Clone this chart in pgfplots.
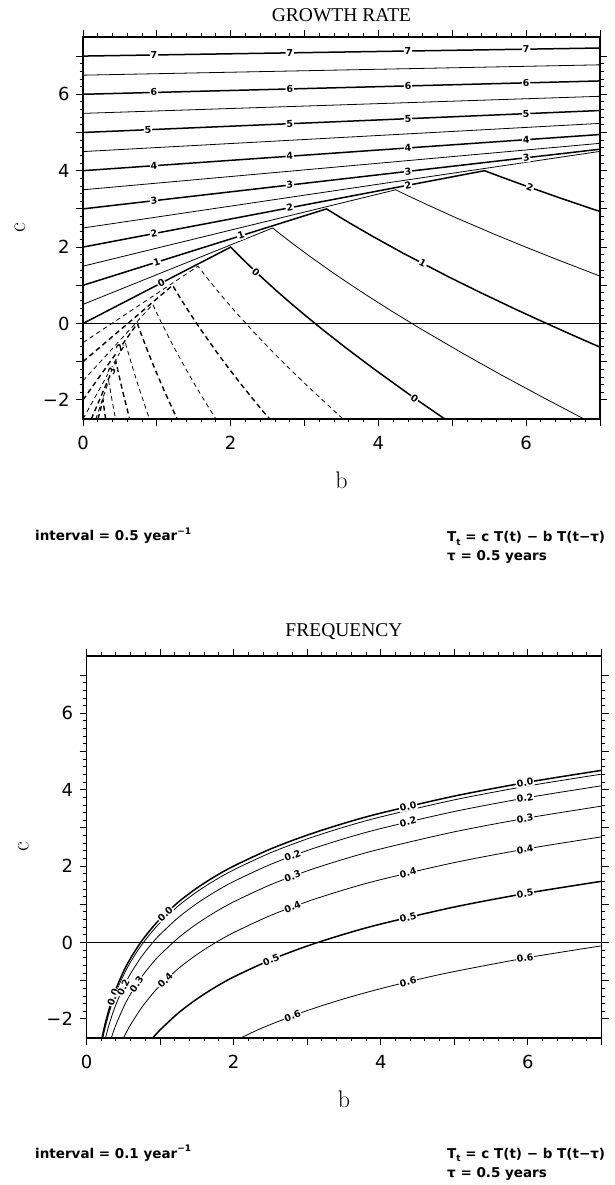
\documentclass[border=0pt]{standalone}
\usepackage{pgfplots}
\pgfplotsset{compat=1.18}
\usepackage{fontspec}
\newfontfamily\ticfont{DejaVu Sans}
\newfontfamily\lblfam{DejaVu Sans}
\newfontfamily\titfont{Liberation Serif}
\newcommand\lbl{\lblfam\bfseries\fontsize{9.5}{10}\selectfont}
\newcommand\annot{\lblfam\bfseries\fontsize{13.5}{15}\selectfont}
\tikzset{cl/.style={font=\lbl, fill=white, inner sep=0.8pt}}
\pgfplotsset{
 base/.style={
   scale only axis, height=382pt,
   xmin=0, xmax=7, ymin=-2.5, ymax=7.5,
   xtick={0,1,2,3,4,5,6,7}, xticklabels={0,,2,,4,,6,},
   ytick={-2,-1,0,1,2,3,4,5,6,7}, yticklabels={−2,,0,,2,,4,,6,},
   minor x tick num=4, minor y tick num=4,
   tick align=outside,
   major tick length=7pt, minor tick length=3.5pt,
   every tick/.append style={line width=0.9pt, black},
   axis line style={line width=1.4pt},
   tick label style={font=\ticfont\fontsize{18}{18}\selectfont},
   xticklabel style={yshift=-7pt},
   yticklabel style={xshift=-3pt},
   title style={font=\titfont\fontsize{19.5}{19.5}\selectfont, anchor=center, yshift=-6pt},
   label style={font=\fontsize{24}{24}\selectfont},
   xlabel style={at={(axis description cs:0.5,-0.1597)}, anchor=center},
   xlabel=b, ylabel=c,
 },
 thk/.style={line width=1.5pt, black},
 thn/.style={line width=0.8pt, black},
 dthk/.style={line width=1.4pt, black, dash pattern=on 5pt off 3.5pt},
 dthn/.style={line width=0.8pt, black, dash pattern=on 4.5pt off 3.5pt},
}
\begin{document}
\begin{tikzpicture}
\useasboundingbox (0,0) rectangle (615pt,1185pt);
% ---------------- GROWTH RATE ----------------
\begin{axis}[base, width=517pt, at={(83pt,766pt)}, anchor=south west,
  title={GROWTH RATE}, title style={at={(axis description cs:0.5,1.0576)}},
  ylabel style={at={(axis description cs:-0.1219,0.5)}, anchor=center}]
\addplot[thk] coordinates {(0,7) (7,7.211)};
\addplot[thn] coordinates {(0,6.5) (7,6.771)};
\addplot[thk] coordinates {(0,6) (7,6.349)};
\addplot[thn] coordinates {(0,5.5) (7,5.947)};
\addplot[thk] coordinates {(0,5) (7,5.575)};
\addplot[thn] coordinates {(0,4.5) (7,5.238)};
\addplot[thk] coordinates {(0,4) (7,4.947)};
\addplot[thn] coordinates {(0,3.5) (7,4.716)};
\addplot[thk] coordinates {(0,3) (7,4.562)};
\addplot[thn] coordinates {(0,2.5) (6.981,4.5) (7,4.505)};
\addplot[thk] coordinates {(0,2) (5.437,4.0) (5.494,3.958) (5.670,3.830) (5.982,3.610) (6.461,3.284) (6.849,3.029) (7,2.933)};
\addplot[thn] coordinates {(0,1.5) (4.234,3.5) (4.278,3.458) (4.416,3.330) (4.659,3.110) (5.031,2.784) (5.577,2.331) (5.935,2.046) (6.367,1.713) (6.669,1.487) (7,1.24)};
\addplot[thk] coordinates {(0,1) (3.297,3.0) (3.332,2.958) (3.439,2.830) (3.628,2.610) (3.919,2.284) (4.343,1.831) (4.958,1.213) (5.366,0.824) (5.864,0.366) (6.218,0.052) (6.621,-0.298) (7,-0.62)};
\addplot[thn] coordinates {(0,0.5) (2.568,2.5) (2.595,2.458) (2.678,2.330) (2.826,2.110) (3.052,1.784) (3.382,1.331) (3.600,1.046) (3.862,0.713) (4.179,0.324) (4.567,-0.134) (5.156,-0.798) (5.648,-1.331) (6.248,-1.956) (6.787,-2.503)};
\addplot[thk] coordinates {(0,0) (2,2) (2.021,1.958) (2.086,1.830) (2.201,1.610) (2.377,1.284) (2.634,0.831) (2.804,0.546) (3.008,0.213) (3.255,-0.176) (3.557,-0.634) (3.930,-1.177) (4.399,-1.831) (4.620,-2.130) (4.866,-2.456) (4.90,-2.50)};
\addplot[dthn] coordinates {(0,-0.5) (1.558,1.5) (1.574,1.458) (1.625,1.330) (1.714,1.110) (1.851,0.784) (2.052,0.331) (2.342,-0.287) (2.535,-0.676) (2.770,-1.134) (3.061,-1.677) (3.426,-2.331) (3.52,-2.5)};
\addplot[dthk] coordinates {(0,-1) (1.213,1.0) (1.226,0.958) (1.265,0.830) (1.335,0.610) (1.442,0.284) (1.598,-0.169) (1.824,-0.787) (1.974,-1.176) (2.157,-1.634) (2.436,-2.298) (2.53,-2.5)};
\addplot[dthn] coordinates {(0,-1.5) (0.945,0.5) (0.955,0.458) (0.985,0.330) (1.040,0.110) (1.123,-0.216) (1.244,-0.669) (1.421,-1.287) (1.537,-1.676) (1.680,-2.134) (1.80,-2.5)};
\addplot[dthk] coordinates {(0,-2) (0.736,0) (0.744,-0.042) (0.767,-0.170) (0.810,-0.390) (0.874,-0.716) (0.969,-1.169) (1.106,-1.787) (1.218,-2.262) (1.275,-2.5)};
\addplot[dthn] coordinates {(0,-2.5) (0.573,-0.5) (0.579,-0.542) (0.598,-0.670) (0.631,-0.890) (0.681,-1.216) (0.755,-1.669) (0.862,-2.287) (0.90,-2.5)};
\addplot[dthk] coordinates {(0.112,-2.5) (0.446,-1.0) (0.451,-1.042) (0.465,-1.170) (0.491,-1.390) (0.530,-1.716) (0.588,-2.169) (0.632,-2.5)};
\addplot[dthn] coordinates {(0.174,-2.5) (0.348,-1.5) (0.351,-1.542) (0.363,-1.670) (0.382,-1.890) (0.413,-2.216) (0.441,-2.5)};
\addplot[dthk] coordinates {(0.203,-2.5) (0.271,-2.0) (0.282,-2.170) (0.298,-2.390) (0.306,-2.5)};
\addplot[line width=1.1pt, black] coordinates {(0,0) (7,0)};
% contour labels
\node[cl, rotate=0.9] at (axis cs:0.96,7.029) {7};
\node[cl, rotate=0.9] at (axis cs:2.8,7.085) {7};
\node[cl, rotate=0.9] at (axis cs:4.4,7.133) {7};
\node[cl, rotate=0.9] at (axis cs:6.0,7.181) {7};
\node[cl, rotate=1.5] at (axis cs:0.96,6.048) {6};
\node[cl, rotate=1.5] at (axis cs:2.8,6.139) {6};
\node[cl, rotate=1.5] at (axis cs:4.4,6.219) {6};
\node[cl, rotate=1.5] at (axis cs:6.0,6.299) {6};
\node[cl, rotate=2.4] at (axis cs:0.88,5.072) {5};
\node[cl, rotate=2.4] at (axis cs:2.8,5.230) {5};
\node[cl, rotate=2.4] at (axis cs:4.4,5.361) {5};
\node[cl, rotate=2.4] at (axis cs:6.0,5.493) {5};
\node[cl, rotate=4] at (axis cs:0.96,4.130) {4};
\node[cl, rotate=4] at (axis cs:2.8,4.379) {4};
\node[cl, rotate=4] at (axis cs:4.4,4.595) {4};
\node[cl, rotate=4] at (axis cs:6.0,4.812) {4};
\node[cl, rotate=6.6] at (axis cs:0.96,3.214) {3};
\node[cl, rotate=6.6] at (axis cs:2.8,3.625) {3};
\node[cl, rotate=6.6] at (axis cs:4.4,3.982) {3};
\node[cl, rotate=6.6] at (axis cs:6.0,4.339) {3};
\node[cl, rotate=10.8] at (axis cs:0.96,2.353) {2};
\node[cl, rotate=10.8] at (axis cs:2.8,3.030) {2};
\node[cl, rotate=10.8] at (axis cs:4.4,3.619) {2};
\node[cl, rotate=-19.4] at (axis cs:6.05,3.56) {2};
\node[cl, rotate=17.4] at (axis cs:1.0,1.607) {1};
\node[cl, rotate=17.4] at (axis cs:2.14,2.298) {1};
\node[cl, rotate=-27.5] at (axis cs:4.6,1.573) {1};
\node[cl, rotate=27.3] at (axis cs:1.06,1.06) {0};
\node[cl, rotate=-43.7] at (axis cs:2.34,1.353) {0};
\node[cl, rotate=-35] at (axis cs:4.49,-1.954) {0};
\node[cl, rotate=54.6] at (axis cs:0.5,-0.641) {2};
\node[cl, rotate=66] at (axis cs:0.39,-1.253) {3};
\end{axis}
% ---------------- FREQUENCY ----------------
\begin{axis}[base, width=515pt, at={(86.5pt,147pt)}, anchor=south west,
  title={FREQUENCY}, title style={at={(axis description cs:0.5,1.0628)}},
  ylabel style={at={(axis description cs:-0.1223,0.5)}, anchor=center}]
\addplot[thk, smooth] coordinates {(0.211,-2.5) (0.25,-2.159) (0.3,-1.794) (0.35,-1.486) (0.4,-1.219) (0.5,-0.773) (0.6,-0.408) (0.75,0.039) (0.9,0.403) (1,0.614) (1.25,1.060) (1.5,1.425) (1.75,1.733) (2,2.000) (2.5,2.447) (3,2.811) (3.5,3.120) (4,3.387) (5,3.833) (6,4.197) (7,4.506)};
\addplot[thn, smooth] coordinates {(0.2215,-2.5) (0.25,-2.258) (0.3,-1.893) (0.35,-1.585) (0.4,-1.318) (0.5,-0.872) (0.6,-0.507) (0.75,-0.060) (0.9,0.304) (1,0.515) (1.25,0.961) (1.5,1.326) (1.75,1.634) (2,1.901) (2.5,2.348) (3,2.712) (3.5,3.021) (4,3.288) (5,3.734) (6,4.098) (7,4.407)};
\addplot[thn, smooth] coordinates {(0.258,-2.5) (0.3,-2.198) (0.35,-1.890) (0.4,-1.623) (0.5,-1.176) (0.6,-0.812) (0.75,-0.365) (0.9,-0.001) (1,0.210) (1.25,0.656) (1.5,1.021) (1.75,1.329) (2,1.596) (2.5,2.043) (3,2.407) (3.5,2.716) (4,2.983) (5,3.429) (6,3.794) (7,4.102)};
\addplot[thn, smooth] coordinates {(0.337,-2.5) (0.35,-2.422) (0.4,-2.155) (0.5,-1.709) (0.6,-1.344) (0.75,-0.897) (0.9,-0.533) (1,-0.322) (1.25,0.124) (1.5,0.489) (1.75,0.797) (2,1.064) (2.5,1.511) (3,1.875) (3.5,2.183) (4,2.450) (5,2.897) (6,3.261) (7,3.570)};
\addplot[thn, smooth] coordinates {(0.503,-2.5) (0.55,-2.323) (0.6,-2.149) (0.75,-1.702) (0.9,-1.338) (1,-1.127) (1.25,-0.680) (1.5,-0.316) (1.75,-0.008) (2,0.259) (2.5,0.706) (3,1.070) (3.5,1.379) (4,1.646) (5,2.092) (6,2.457) (7,2.765)};
\addplot[thk, smooth] coordinates {(0.900,-2.5) (1,-2.289) (1.25,-1.843) (1.5,-1.479) (1.75,-1.170) (2,-0.903) (2.5,-0.457) (3,-0.092) (3.5,0.216) (4,0.483) (5,0.929) (6,1.294) (7,1.602)};
\addplot[thn, smooth] coordinates {(2.095,-2.5) (2.25,-2.357) (2.5,-2.147) (3,-1.782) (3.5,-1.474) (4,-1.207) (4.5,-0.971) (5,-0.760) (6,-0.396) (7,-0.088)};
\addplot[line width=1.1pt, black] coordinates {(0,0) (7,0)};
\node[cl, rotate=44.1] at (axis cs:1.07,0.749) {0.0};
\node[cl, rotate=13.4] at (axis cs:4.37,3.564) {0.0};
\node[cl, rotate=9.9] at (axis cs:5.96,4.184) {0.0};
\node[cl, rotate=70] at (axis cs:0.36,-1.43) {0.0};
\node[cl, rotate=20.3] at (axis cs:2.8,2.269) {0.2};
\node[cl, rotate=13.4] at (axis cs:4.37,3.160) {0.2};
\node[cl, rotate=9.9] at (axis cs:5.96,3.780) {0.2};
\node[cl, rotate=64] at (axis cs:0.50,-1.176) {0.2};
\node[cl, rotate=20.3] at (axis cs:2.8,1.737) {0.3};
\node[cl, rotate=9.9] at (axis cs:5.96,3.248) {0.3};
\node[cl, rotate=56] at (axis cs:0.68,-1.09) {0.3};
\node[cl, rotate=9.9] at (axis cs:5.96,2.443) {0.4};
\node[cl, rotate=13.4] at (axis cs:4.37,1.823) {0.4};
\node[cl, rotate=20.3] at (axis cs:2.8,0.932) {0.4};
\node[cl, rotate=44.1] at (axis cs:1.07,-0.992) {0.4};
\node[cl, rotate=9.9] at (axis cs:5.96,1.281) {0.5};
\node[cl, rotate=13.4] at (axis cs:4.37,0.660) {0.5};
\node[cl, rotate=22.5] at (axis cs:2.51,-0.449) {0.5};
\node[cl, rotate=9.9] at (axis cs:5.96,-0.409) {0.6};
\node[cl, rotate=13.4] at (axis cs:4.37,-1.029) {0.6};
\node[cl, rotate=20.3] at (axis cs:2.8,-1.920) {0.6};
\end{axis}
% ---------------- annotations ----------------
\node[anchor=base west, font=\annot, inner sep=0pt] at (35pt,644pt) {interval = 0.5 year\raisebox{0.45em}{\fontsize{9}{9}\selectfont −1}};
\node[anchor=base west, font=\annot, inner sep=0pt] at (447pt,643pt) {T\raisebox{-0.25em}{\fontsize{9}{9}\selectfont t} = c T(t) − b T(t−τ)};
\node[anchor=base west, font=\annot, inner sep=0pt] at (447pt,624pt) {τ = 0.5 years};
\node[anchor=base west, font=\annot, inner sep=0pt] at (35pt,27pt) {interval = 0.1 year\raisebox{0.45em}{\fontsize{9}{9}\selectfont −1}};
\node[anchor=base west, font=\annot, inner sep=0pt] at (447pt,27pt) {T\raisebox{-0.25em}{\fontsize{9}{9}\selectfont t} = c T(t) − b T(t−τ)};
\node[anchor=base west, font=\annot, inner sep=0pt] at (447pt,8pt) {τ = 0.5 years};
\end{tikzpicture}
\end{document}
